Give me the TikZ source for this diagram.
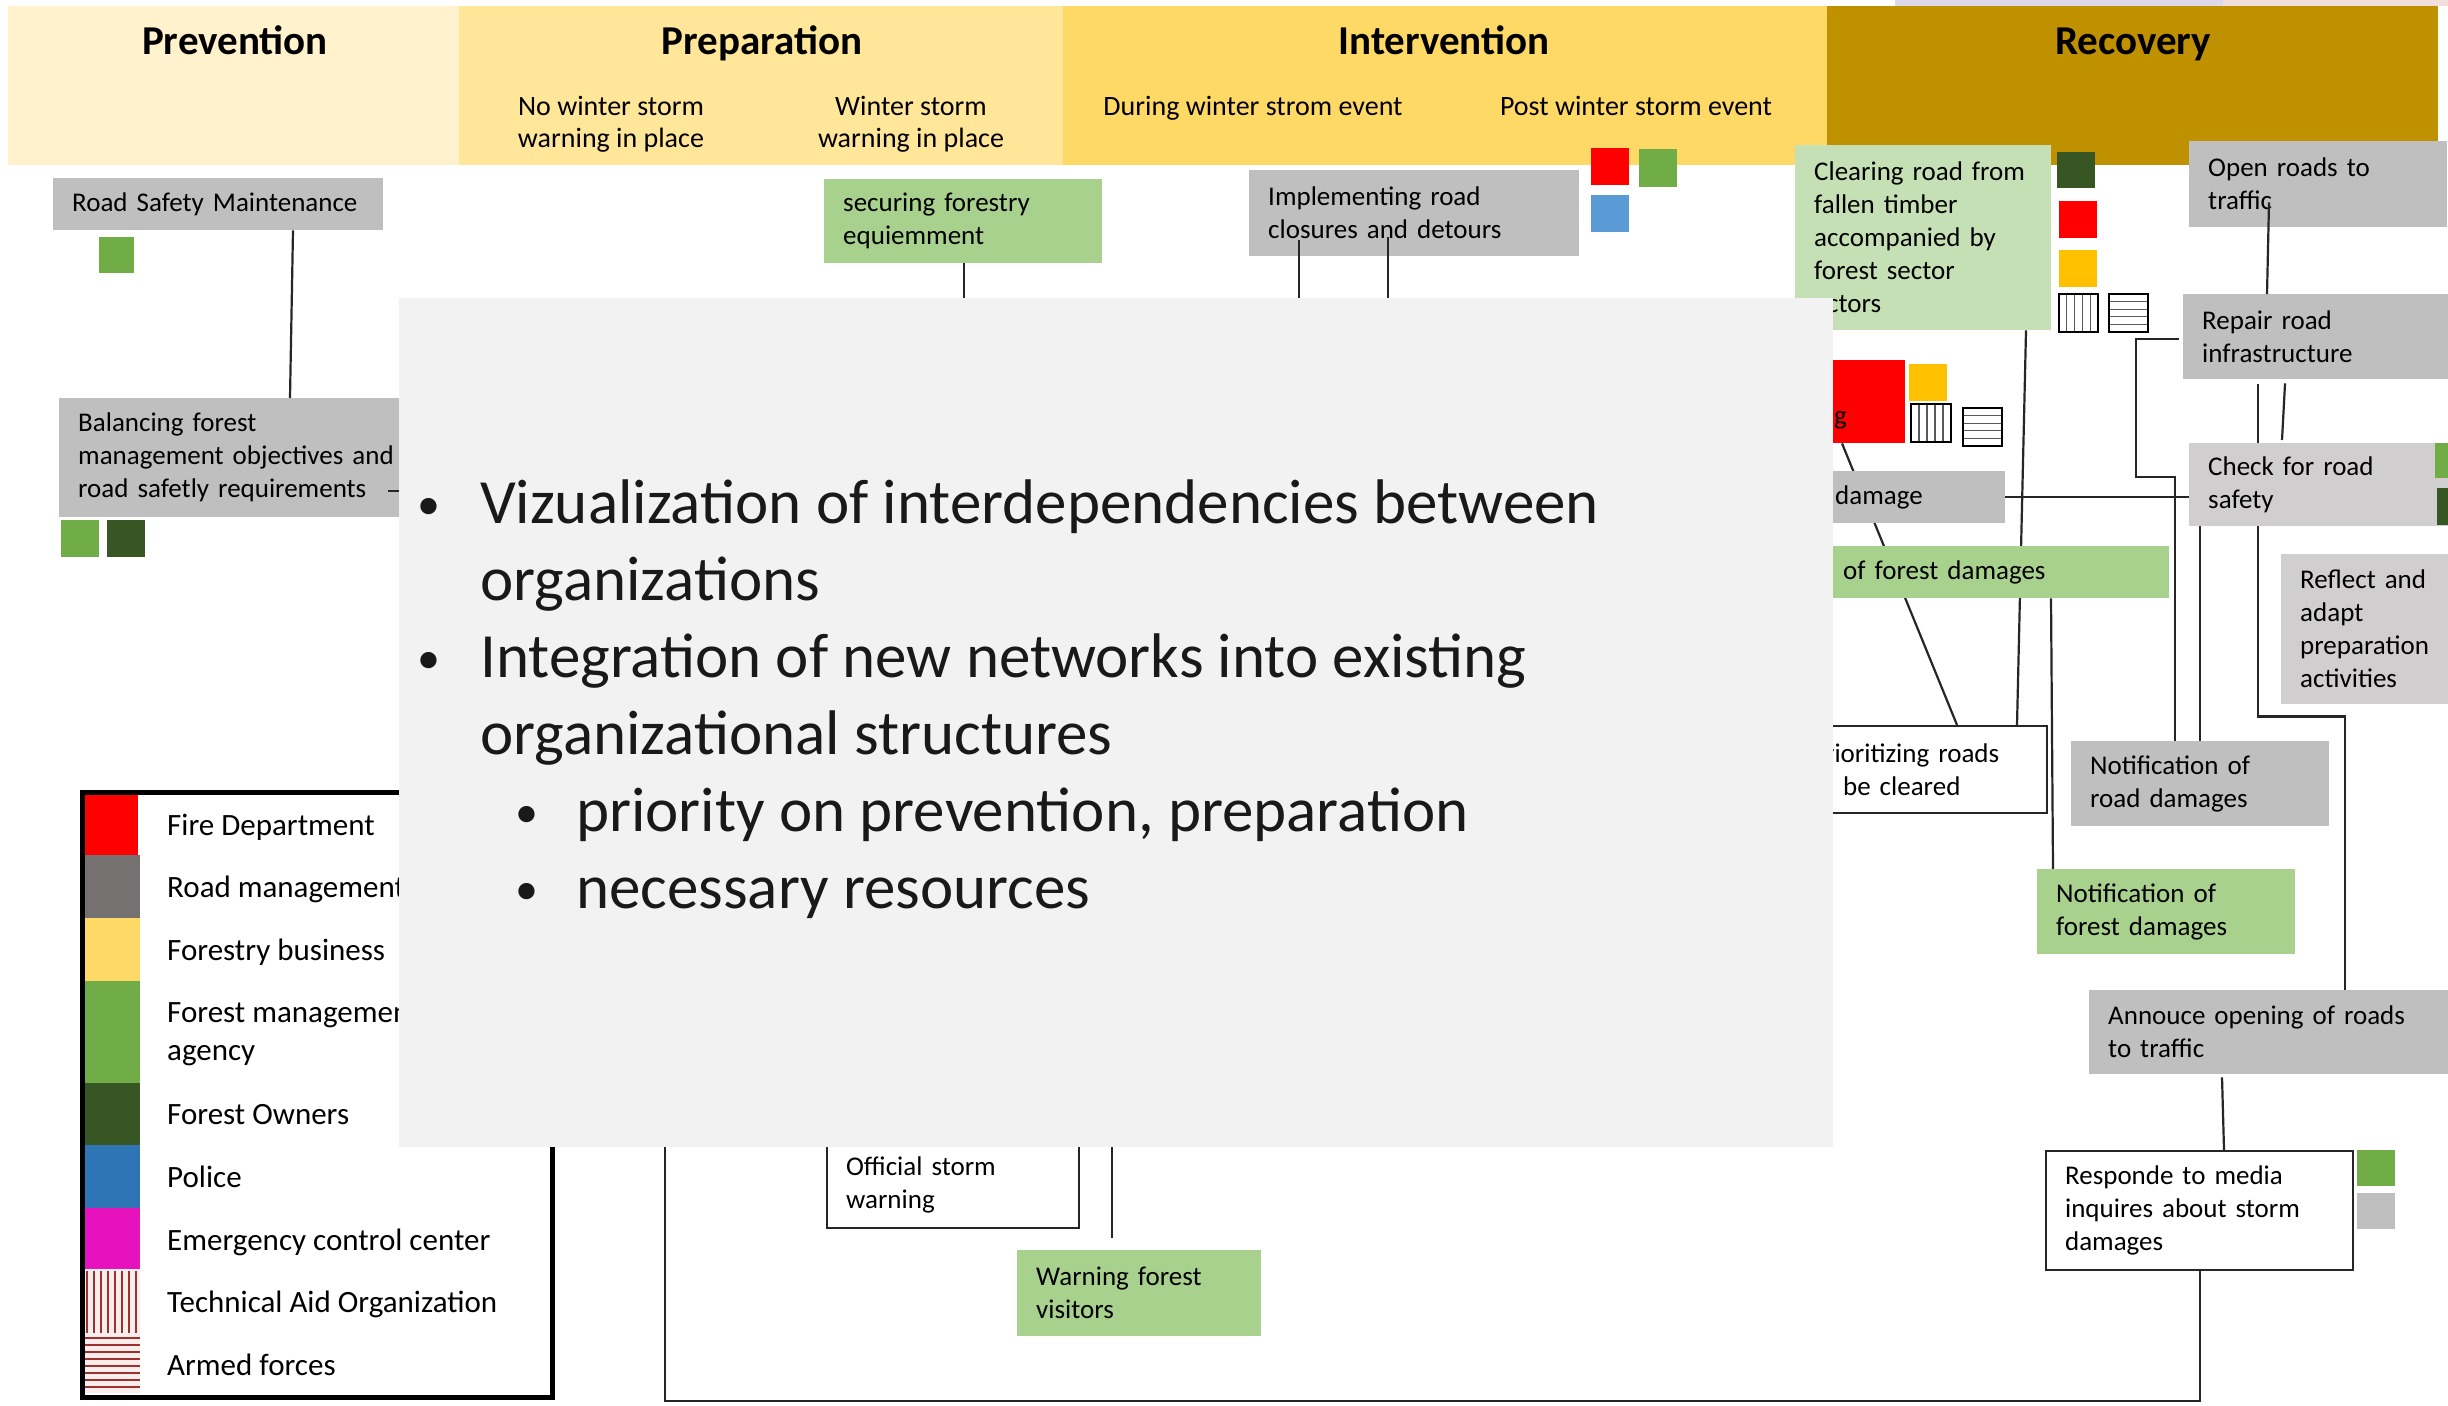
\documentclass[tikz,border=0pt]{standalone}
\usepackage{fontspec}
\setmainfont{Carlito}
\usetikzlibrary{calc}
\definecolor{hPrev}{HTML}{FFF2CC}
\definecolor{hPrep}{HTML}{FFE699}
\definecolor{hInt}{HTML}{FFD966}
\definecolor{hRec}{HTML}{BF9000}
\definecolor{bGrey}{HTML}{BFBFBF}
\definecolor{bGreyL}{HTML}{D0CECE}
\definecolor{bGreen}{HTML}{A9D18E}
\definecolor{bGreenL}{HTML}{C5E0B4}
\definecolor{sGreen}{HTML}{70AD47}
\definecolor{sDark}{HTML}{375623}
\definecolor{sRed}{HTML}{FF0000}
\definecolor{sBlue}{HTML}{5B9BD5}
\definecolor{sOrange}{HTML}{FFC000}
\definecolor{lGrey}{HTML}{767171}
\definecolor{lYellow}{HTML}{FFD966}
\definecolor{lBlue}{HTML}{2E75B6}
\definecolor{lMag}{HTML}{E512BE}
\definecolor{lHatch}{HTML}{9E3030}
\definecolor{lHatchBg}{HTML}{FCEDED}
\definecolor{panelBg}{HTML}{F2F2F2}
\definecolor{lav}{HTML}{DDD8EA}
\definecolor{pinkish}{HTML}{F2DEDD}
\definecolor{lineC}{HTML}{262626}
\newcommand{\bxfont}{\fontsize{27pt}{33pt}\selectfont\hyphenpenalty=10000\exhyphenpenalty=10000}
\newcommand{\hatchV}[4]{%
  \fill[white] (#1,#2) rectangle (#3,#4);
  \foreach \hh in {1,2,3,4}{\draw[hatchln] ({#1+\hh*(#3-#1)/5},#2) -- ({#1+\hh*(#3-#1)/5},#4);}
  \draw[hatchbd] (#1,#2) rectangle (#3,#4);}
\newcommand{\hatchH}[4]{%
  \fill[white] (#1,#2) rectangle (#3,#4);
  \foreach \hh in {1,2,3,4}{\draw[hatchln] (#1,{#2+\hh*(#4-#2)/5}) -- (#3,{#2+\hh*(#4-#2)/5});}
  \draw[hatchbd] (#1,#2) rectangle (#3,#4);}
\pgfdeclarelayer{bg}
\pgfdeclarelayer{fg}
\pgfsetlayers{bg,main,fg}
\tikzset{
  bx/.style={rectangle, anchor=north west, inner xsep=19pt, inner ysep=0pt, align=left, font=\bxfont, text=black},
  greybox/.style={bx, fill=bGrey},
  greyLbox/.style={bx, fill=bGreyL},
  greenbox/.style={bx, fill=bGreen},
  greenLbox/.style={bx, fill=bGreenL},
  whitebox/.style={bx, fill=white, draw=lineC, line width=2.2pt},
  conn/.style={draw=lineC, line width=2.2pt},
  hdr/.style={anchor=base, font=\fontsize{41pt}{45pt}\selectfont\bfseries, inner sep=0pt},
  subhdr/.style={anchor=base, font=\fontsize{28pt}{32pt}\selectfont, inner sep=0pt},
  lgtext/.style={anchor=base west, font=\fontsize{31pt}{38pt}\selectfont, inner sep=0pt},
  pntext/.style={anchor=base west, font=\fontsize{63pt}{77pt}\selectfont, inner sep=0pt, text=black!90},
  pnbullet/.style={anchor=base, font=\fontsize{46pt}{50pt}\selectfont, inner sep=0pt, text=black!90},
  hatchln/.style={draw=black!65, line width=1.3pt},
  hatchbd/.style={draw=black, line width=2pt},
  lghatch/.style={draw=lHatch, line width=1.4pt},
}
\begin{document}
\begin{tikzpicture}[x=1pt,y=-1pt]
\useasboundingbox (0,0) rectangle (2448,1405);

\begin{pgfonlayer}{bg}
\fill[white] (0,0) rectangle (2448,1405);
\fill[lav] (1895,0) rectangle (2223,6);
\fill[pinkish] (2223,0) rectangle (2448,6);
\fill[hPrev] (8,6) rectangle (459,165);
\fill[hPrep] (459,6) rectangle (1063,165);
\fill[hInt] (1063,6) rectangle (1827,165);
\fill[hRec] (1827,6) rectangle (2438,165);
\end{pgfonlayer}

% headers
\node[hdr] (hp1) at (235,55) {Prevention};
\node[hdr] (hp2) at (762,55) {Preparation};
\node[hdr] (hp3) at (1444,55) {Intervention};
\node[hdr] (hp4) at (2133,55) {Recovery};
\node[subhdr] (s1a) at (611,115) {No winter storm};
\node[subhdr] (s1b) at (611,147) {warning in place};
\node[subhdr] (s2a) at (911,115) {Winter storm};
\node[subhdr] (s2b) at (911,147) {warning in place};
\node[subhdr] (s3) at (1253,115) {During winter strom event};
\node[subhdr] (s4) at (1636,115) {Post winter storm event};

% activity boxes
\node[greybox, minimum width=330pt, minimum height=52pt, text width=292pt] (rsm) at (53,178) {Road Safety Maintenance};
\node[greybox, minimum width=361pt, minimum height=119pt, text width=323pt] (bal) at (59,398) {Balancing forest\\management objectives and\\road safetly requirements};
\node[greenbox, minimum width=278pt, minimum height=84pt, text width=240pt] (sfe) at (824,179) {securing forestry\\equiemment};
\node[greybox, minimum width=330pt, minimum height=86pt, text width=292pt] (ird) at (1249,170) {Implementing road\\closures and detours};
\node[greenLbox, minimum width=256pt, minimum height=185pt, text width=218pt] (clr) at (1795,145) {Clearing road from\\fallen timber\\accompanied by\\forest sector\\actors};
\node[fill=sRed, anchor=north west, inner sep=0pt, minimum width=87pt, minimum height=83pt] (redb) at (1818,360) {};
\node[anchor=base west, font=\bxfont, inner sep=0pt] (redtxt) at (1834,424) {g};
\node[greybox, minimum width=189pt, minimum height=52pt, text width=151pt] (dmg) at (1816,471) {damage};
\node[greenbox, minimum width=345pt, minimum height=52pt, text width=307pt] (ofd) at (1824,546) {of forest damages};
\node[whitebox, minimum width=255pt, minimum height=87pt, text width=217pt] (pri) at (1791,725) {Prioritizing roads\\to be cleared};
\node[greybox, minimum width=258pt, minimum height=86pt, text width=220pt] (orf) at (2189,141) {Open roads to\\traffic};
\node[greybox, minimum width=265pt, minimum height=85pt, text width=227pt] (rep) at (2183,294) {Repair road\\infrastructure};
\node[greyLbox, minimum width=259pt, minimum height=83pt, text width=221pt] (chk) at (2189,443) {Check for road\\safety};
\node[greyLbox, minimum width=167pt, minimum height=150pt, text width=135pt] (rfl) at (2281,554) {Reflect and\\adapt\\preparation\\activities};
\node[greybox, minimum width=258pt, minimum height=85pt, text width=220pt] (nrd) at (2071,741) {Notification of\\road damages};
\node[greenbox, minimum width=258pt, minimum height=85pt, text width=220pt] (nfd) at (2037,869) {Notification of\\forest damages};
\node[greybox, minimum width=359pt, minimum height=84pt, text width=321pt] (ann) at (2089,990) {Annouce opening of roads\\to traffic};
\node[whitebox, minimum width=307pt, minimum height=119pt, text width=269pt] (rsp) at (2045,1150) {Responde to media\\inquires about storm\\damages};
\node[whitebox, minimum width=252pt, minimum height=87pt, text width=214pt] (osw) at (826,1140) {Official storm\\warning};
\node[greenbox, minimum width=244pt, minimum height=86pt, text width=206pt] (wfv) at (1017,1250) {Warning forest\\visitors};

% free ends hidden under the panel
\coordinate (hA) at (964,330);
\coordinate (hB) at (1299,330);
\coordinate (hC) at (1388,330);
\coordinate (hD0) at (388,491);
\coordinate (hD) at (430,491);
\coordinate (bl) at (665,1401);
\coordinate (hE) at (665,1120);
\coordinate (hF) at (1112,1120);

% connectors below boxes
\begin{pgfonlayer}{bg}
\draw[conn] (rsm.south -| 293,0) -- (bal.north -| 290,0);
\draw[conn] (sfe.south -| 964,0) -- (hA);
\draw[conn] (clr.south -| 2026,0) -- (pri.north -| 2017,0);
\draw[conn] (redb.south -| 1842,0) -- (pri.north -| 1957,0);
\draw[conn] (dmg.east) -- (dmg.east -| chk.west);
\draw[conn] (ofd.south -| 2051,0) -- (nfd.north -| 2053,0);
\draw[conn] ($(rep.south -| 2258,0)+(0,5)$) -- (chk.north -| 2258,0);
\draw[conn] ($(rep.south -| 2285,0)+(0,4)$) -- ($(chk.north -| 2282,0)+(0,-3)$);
\draw[conn] ($(rep.west)+(-4,2)$) -- ++(-43,0) -- ++(0,138) -- ++(39,0) -- (nrd.north -| 2175,0);
\draw[conn] (chk.south -| 2200,0) -- (nrd.north -| 2200,0);
\draw[conn] (chk.south -| 2258,0) -- ++(0,190) -| (ann.north -| 2345,0);
\draw[conn] ($(ann.south -| 2222,0)+(0,3)$) -- (rsp.north -| 2224,0);
\draw[conn] (rsp.south -| 2200,0) |- (bl) -- (hE);
\draw[conn] (hF) -- ($(wfv.north -| 1112,0)+(0,-12)$);
\end{pgfonlayer}

% connectors over boxes
\draw[conn] ($(ird.south -| 1299,0)+(0,-16)$) -- (hB);
\draw[conn] ($(ird.south -| 1388,0)+(0,-19)$) -- (hC);
\draw[conn] ($(orf.south -| 2269,0)+(0,-25)$) -- (rep.north -| 2267,0);
\draw[conn] (hD0) -- (hD);

% organisation markers
\fill[sGreen] (99,237) rectangle (134,273);
\fill[sGreen] (61,520) rectangle (99,557);
\fill[sDark] (107,520) rectangle (145,557);
\fill[sRed] (1591,148) rectangle (1629,185);
\fill[sGreen] (1639,149) rectangle (1677,187);
\fill[sBlue] (1591,195) rectangle (1629,232);
\fill[sDark] (2057,152) rectangle (2095,188);
\fill[sRed] (2059,201) rectangle (2097,238);
\fill[sOrange] (2059,250) rectangle (2097,287);
\hatchV{2059}{294}{2098}{332}
\hatchH{2109}{294}{2148}{332}
\fill[sOrange] (1909,364) rectangle (1947,401);
\hatchV{1911}{404}{1951}{442}
\hatchH{1963}{408}{2002}{446}
\fill[sGreen] (2435,443) rectangle (2448,478);
\fill[sDark] (2437,488) rectangle (2448,525);
\fill[sGreen] (2357,1150) rectangle (2395,1186);
\fill[bGrey] (2357,1193) rectangle (2395,1229);

% legend
\fill[white] (82,792) rectangle (552,1397);
\fill[sRed] (84,795) rectangle (138,855);
\fill[lGrey] (84,855) rectangle (140,918);
\fill[lYellow] (84,918) rectangle (140,981);
\fill[sGreen] (84,981) rectangle (140,1083);
\fill[sDark] (84,1083) rectangle (140,1145);
\fill[lBlue] (84,1145) rectangle (140,1208);
\fill[lMag] (84,1208) rectangle (140,1269);
\fill[lHatchBg] (84,1269) rectangle (140,1393);
\foreach \xx in {87,94,...,137}{\draw[lghatch] (\xx,1271) -- (\xx,1333);}
\foreach \yy in {1338,1345,...,1390}{\draw[lghatch] (84,\yy) -- (140,\yy);}
\draw[line width=5pt] (82,792) rectangle (552,1397);
\node[lgtext] (lg1) at (167,835) {Fire Department};
\node[lgtext] (lg2) at (167,897) {Road management};
\node[lgtext] (lg3) at (167,960) {Forestry business};
\node[lgtext] (lg4a) at (167,1022) {Forest management};
\node[lgtext] (lg4b) at (167,1060) {agency};
\node[lgtext] (lg5) at (167,1124) {Forest Owners};
\node[lgtext] (lg6) at (167,1187) {Police};
\node[lgtext] (lg7) at (167,1250) {Emergency control center};
\node[lgtext] (lg8) at (167,1312) {Technical Aid Organization};
\node[lgtext] (lg9) at (167,1375) {Armed forces};

% overlay panel
\begin{pgfonlayer}{fg}
\node[fill=panelBg, anchor=north west, inner sep=0pt, minimum width=1434pt, minimum height=849pt] (panel) at (399,298) {};
\node[pnbullet] (pb1) at (429,519) {•};
\node[pntext] (pt1) at (480,523) {Vizualization of interdependencies between};
\node[pntext] (pt1b) at (480,600) {organizations};
\node[pnbullet] (pb2) at (429,673) {•};
\node[pntext] (pt2) at (480,677) {Integration of new networks into existing};
\node[pntext] (pt2b) at (480,754) {organizational structures};
\node[pnbullet] (pb3) at (527,827) {•};
\node[pntext] (pt3) at (576,831) {priority on prevention, preparation};
\node[pnbullet] (pb4) at (527,904) {•};
\node[pntext] (pt4) at (576,908) {necessary resources};
\end{pgfonlayer}
\end{tikzpicture}
\end{document}
